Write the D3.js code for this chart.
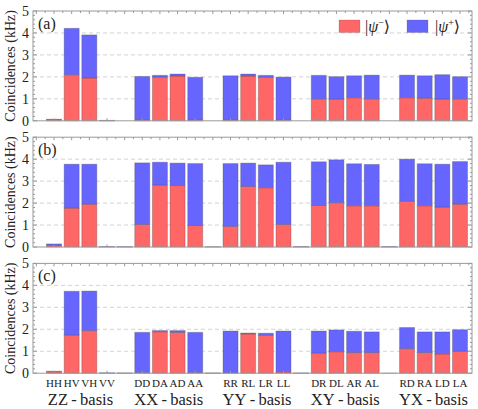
<!DOCTYPE html>
<html><head><meta charset="utf-8">
<script src="https://cdn.jsdelivr.net/npm/d3@7"></script>
<style>body{margin:0;background:#fff}svg{display:block}</style>
</head><body><div id="chart"></div>
<script>
const slots = ["HH","HV","VH","VV","","DD","DA","AD","AA","","RR","RL","LR","LL","","DR","DL","AR","AL","","RD","RA","LD","LA"];
const bases = ["ZZ", "XX", "YY", "XY", "YX"];
const panelLabels = ["(a)", "(b)", "(c)"];
const yTicks = [0, 1, 2, 3, 4, 5];
const seriesNames = ["\u03C8\u2212", "\u03C8+"];

const redA  = [0.06,2.10,1.95,0.005,0, 0.03,1.99,2.04,0.03,0, 0.03,2.04,1.98,0.03,0, 1.00,0.99,1.05,1.00,0, 1.05,1.03,0.99,1.00];
const blueA = [0.01,2.11,1.96,0.015,0, 1.99,0.08,0.09,1.95,0, 2.02,0.09,0.09,1.96,0, 1.07,1.02,1.00,1.08,0, 1.03,1.02,1.11,1.01];
const redB  = [0.07,1.77,1.95,0.005,0.005, 1.03,2.82,2.80,0.98,0.005, 0.94,2.76,2.70,1.03,0.005, 1.89,2.02,1.88,1.88,0.005, 2.08,1.88,1.82,1.95];
const blueB = [0.07,2.00,1.82,0.015,0.01, 2.80,1.04,1.02,2.82,0.005, 2.86,1.06,1.04,2.83,0.015, 1.99,1.95,1.91,1.88,0.015, 1.92,1.91,1.95,1.94];
const redC  = [0.07,1.74,1.94,0.005,0.005, 0.02,1.89,1.86,0.03,0.005, 0.01,1.79,1.73,0.06,0.005, 0.91,0.98,0.94,0.94,0, 1.12,0.94,0.88,1.00];
const blueC = [0.02,1.99,1.80,0.01,0.005, 1.84,0.05,0.08,1.83,0.005, 1.91,0.04,0.09,1.86,0.005, 1.01,0.99,0.97,0.94,0.005, 0.96,0.94,1.00,0.98];

const panels = [[redA, blueA], [redB, blueB], [redC, blueC]];
const colors = ["#ff6666", "#6666ff"];

const W = 478, H = 409;
const svg = d3.select("#chart").append("svg").attr("width", W).attr("height", H)
  .attr("font-family", "'Liberation Serif', 'Times New Roman', 'DejaVu Serif', serif")
  .style("font-family", "'Liberation Serif', 'Times New Roman', 'DejaVu Serif', serif");
const x = d3.scaleLinear().domain([-1.19, 23.68]).range([33, 472]);
const bw = (x(1) - x(0)) * 0.85;
const frameCol = "#9a9a9a";

panels.forEach((pd, k) => {
  const top = 11 + k * 126.2, bot = top + 109.8;
  const y = d3.scaleLinear().domain([0, 5]).range([bot, top]);
  const g = svg.append("g").attr("fill", "#222");
  g.selectAll(".grid").data([1,2,3,4]).join("line")
    .attr("x1", x.range()[0]).attr("x2", x.range()[1])
    .attr("y1", d => y(d)).attr("y2", d => y(d))
    .attr("stroke", "#c8c8c8").attr("stroke-width", 0.8).attr("stroke-dasharray", "4,3");
  const [red, blue] = pd;
  const rows = slots.map((s, i) => ({i, r: red[i], b: blue[i]}));
  g.selectAll(".r").data(rows).join("rect")
    .attr("x", d => x(d.i) - bw/2).attr("width", bw)
    .attr("y", d => y(d.r)).attr("height", d => y(0) - y(d.r))
    .attr("fill", colors[0]).attr("stroke", "rgba(70,70,70,0.3)").attr("stroke-width", 1);
  g.selectAll(".b").data(rows).join("rect")
    .attr("x", d => x(d.i) - bw/2).attr("width", bw)
    .attr("y", d => y(d.r + d.b)).attr("height", d => y(d.r) - y(d.r + d.b))
    .attr("fill", colors[1]).attr("stroke", "rgba(70,70,70,0.3)").attr("stroke-width", 1);
  g.append("rect").attr("x", x.range()[0]).attr("y", top)
    .attr("width", x.range()[1] - x.range()[0]).attr("height", bot - top)
    .attr("fill", "none").attr("stroke", frameCol).attr("stroke-width", 1);
  const minor = d3.range(0, 5.001, 0.2).filter(v => Math.abs(v - Math.round(v)) > 0.01);
  [[x.range()[0], 1], [x.range()[1], -1]].forEach(([xx, dir]) => {
    g.selectAll(null).data(yTicks).join("line")
      .attr("x1", xx).attr("x2", xx + dir * 4).attr("y1", d => y(d)).attr("y2", d => y(d))
      .attr("stroke", frameCol);
    g.selectAll(null).data(minor).join("line")
      .attr("x1", xx).attr("x2", xx + dir * 2).attr("y1", d => y(d)).attr("y2", d => y(d))
      .attr("stroke", frameCol);
  });
  g.selectAll(null).data(d3.range(-1, 23.6, 0.5)).join("line")
    .attr("x1", d => x(d)).attr("x2", d => x(d)).attr("y1", top).attr("y2", d => top + (d % 1 === 0 ? 3 : 2))
    .attr("stroke", frameCol);
  g.selectAll(null).data(rows.filter(d => slots[d.i] !== "")).join("line")
    .attr("x1", d => x(d.i)).attr("x2", d => x(d.i)).attr("y1", bot).attr("y2", bot - 2.5)
    .attr("stroke", frameCol);
  g.selectAll(null).data(yTicks).join("text")
    .attr("x", 29).attr("y", d => y(d)).attr("dy", "0.34em").attr("text-anchor", "end")
    .attr("font-size", 14).text(d => d);
  g.append("text").attr("transform", `translate(15,${(top + bot) / 2}) rotate(-90)`)
    .attr("text-anchor", "middle").attr("font-size", 14).text("Coincidences (kHz)");
  g.append("text").attr("x", 38).attr("y", top + 18).attr("font-size", 16).text(panelLabels[k]);

  if (k === 2) {
    g.selectAll(null).data(rows.filter(d => slots[d.i] !== "")).join("text")
      .attr("x", d => x(d.i)).attr("y", 386.5).attr("text-anchor", "middle")
      .attr("font-size", 11).text(d => slots[d.i]);
    g.selectAll(null).data(bases).join("text")
      .attr("x", (d, j) => x(j * 5 + 1.5)).attr("y", 404.5).attr("text-anchor", "middle")
      .attr("font-size", 16.5).text(d => d + "\u2009-\u2009basis");
  }
  if (k === 0) {
    const leg = [[339, 365], [407, 435]];
    leg.forEach(([rx, tx], j) => {
      g.append("rect").attr("x", rx).attr("y", 20).attr("width", 21).attr("height", 12.5)
        .attr("fill", colors[j]).attr("stroke", "rgba(70,70,70,0.2)");
      const t = g.append("text").attr("x", tx).attr("y", 31.5).attr("font-size", 16);
      t.append("tspan").text("|");
      t.append("tspan").attr("font-style", "italic").text("\u03C8");
      t.append("tspan").attr("dy", -6).attr("font-size", 10).text(seriesNames[j].slice(1));
      t.append("tspan").attr("dy", 6).text("\u27E9");
    });
  }
});
</script></body></html>
